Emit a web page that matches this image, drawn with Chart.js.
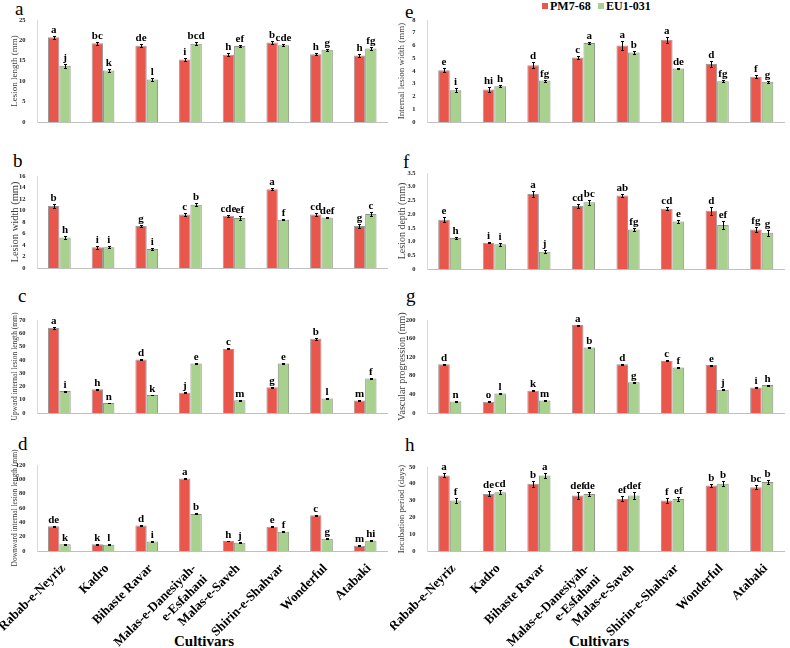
<!DOCTYPE html>
<html>
<head>
<meta charset="utf-8">
<script src="https://cdn.jsdelivr.net/npm/chart.js@4.4.0/dist/chart.umd.min.js"></script>
<style>
  body { margin: 0; width: 790px; height: 648px; background: #fff; position: relative; overflow: hidden;
         font-family: "Liberation Serif", "Times New Roman", serif; }
  canvas { position: absolute; }
  .tag { position: absolute; font-size: 19px; line-height: 1; color: #000; }
  .axisName { position: absolute; font-size: 15px; font-weight: bold; line-height: 1; transform: translateX(-50%); }
  .legend { position: absolute; top: 0; font-size: 12px; font-weight: bold; line-height: 1; white-space: nowrap; }
  .legend i { display: inline-block; width: 6px; height: 6px; margin-right: 2px; vertical-align: 1px; }
</style>
</head>
<body>
<div class="tag" style="left:15px;top:-1px">a</div>
<div class="tag" style="left:13px;top:151px">b</div>
<div class="tag" style="left:18px;top:286px">c</div>
<div class="tag" style="left:18px;top:434px">d</div>
<div class="tag" style="left:405px;top:2px">e</div>
<div class="tag" style="left:403px;top:152px">f</div>
<div class="tag" style="left:406px;top:286px">g</div>
<div class="tag" style="left:405px;top:435px">h</div>
<div class="legend" style="left:542px"><i style="background:#E9564B"></i>PM7-68</div>
<div class="legend" style="left:598px"><i style="background:#A9D18E"></i>EU1-031</div>
<div class="axisName" style="left:204px;top:634px">Cultivars</div>
<div class="axisName" style="left:599px;top:634px">Cultivars</div>

<script>
const cultivars = ["Rabab-e-Neyriz", "Kadro", "Bihaste Ravar", ["Malas-e-Danesiyah-", "e-Esfahani"],
  "Malas-e-Saveh", "Shirin-e-Shahvar", "Wonderful", "Atabaki"];
const seriesNames = ["PM7-68", "EU1-031"];

// a - lesion length (mm)
const lengthPM = [20.8, 19.3, 18.7, 15.3, 16.5, 19.5, 16.6, 16.3];
const lengthEU = [13.8, 12.6, 10.4, 19.2, 18.6, 18.8, 17.7, 18.0];
const lengthPMErr = [0.4, 0.4, 0.3, 0.4, 0.3, 0.3, 0.3, 0.3];
const lengthEUErr = [0.5, 0.3, 0.3, 0.3, 0.2, 0.2, 0.3, 0.3];
const lengthPMLet = ["a", "bc", "de", "i", "h", "b", "h", "h"];
const lengthEULet = ["j", "k", "l", "bcd", "ef", "cde", "g", "fg"];

// b - lesion width (mm)
const widthPM = [10.8, 3.6, 7.3, 9.3, 9.1, 13.7, 9.3, 7.3];
const widthEU = [5.3, 3.6, 3.3, 11.0, 8.7, 8.4, 8.8, 9.4];
const widthPMErr = [0.4, 0.3, 0.2, 0.3, 0.2, 0.2, 0.2, 0.3];
const widthEUErr = [0.2, 0.2, 0.15, 0.3, 0.3, 0.1, 0.15, 0.3];
const widthPMLet = ["b", "i", "g", "c", "cde", "a", "cd", "g"];
const widthEULet = ["h", "i", "i", "b", "ef", "f", "def", "c"];

// c - upward internal lesion length (mm)
const upwardPM = [64.0, 17.8, 40.2, 15.3, 48.2, 19.3, 55.8, 9.4];
const upwardEU = [16.5, 7.5, 13.5, 37.3, 9.6, 37.3, 11.0, 26.0];
const upwardPMErr = [0.5, 0.3, 0.4, 0.4, 0.4, 0.4, 0.5, 0.3];
const upwardEUErr = [0.4, 0.3, 0.3, 0.5, 0.3, 0.5, 0.3, 0.4];
const upwardPMLet = ["a", "h", "d", "j", "c", "g", "b", "m"];
const upwardEULet = ["i", "n", "k", "e", "m", "e", "l", "f"];

// d - downward internal lesion length (mm)
const downwardPM = [34.5, 9.5, 35.5, 101.0, 14.0, 34.0, 49.8, 7.5];
const downwardEU = [9.5, 8.8, 13.3, 51.8, 11.5, 27.0, 17.2, 14.3];
const downwardPMErr = [0.8, 0.5, 0.5, 0.8, 0.5, 0.5, 0.6, 0.5];
const downwardEUErr = [0.5, 0.5, 0.5, 0.6, 0.5, 0.5, 0.5, 0.5];
const downwardPMLet = ["de", "k", "d", "a", "h", "e", "c", "m"];
const downwardEULet = ["k", "l", "i", "b", "j", "f", "g", "hi"];

// e - internal lesion width (mm)
const intWidthPM = [4.05, 2.55, 4.45, 5.05, 6.0, 6.45, 4.55, 3.55];
const intWidthEU = [2.5, 2.8, 3.25, 6.2, 5.45, 4.2, 3.2, 3.15];
const intWidthPMErr = [0.15, 0.2, 0.25, 0.1, 0.35, 0.25, 0.25, 0.1];
const intWidthEUErr = [0.15, 0.08, 0.08, 0.05, 0.1, 0.07, 0.1, 0.1];
const intWidthPMLet = ["e", "hi", "d", "c", "a", "a", "d", "f"];
const intWidthEULet = ["i", "h", "fg", "a", "b", "de", "fg", "g"];

// f - lesion depth (mm)
const depthPM = [1.8, 0.96, 2.73, 2.3, 2.68, 2.2, 2.12, 1.44];
const depthEU = [1.13, 0.9, 0.63, 2.43, 1.44, 1.73, 1.6, 1.32];
const depthPMErr = [0.1, 0.03, 0.1, 0.08, 0.06, 0.06, 0.15, 0.1];
const depthEUErr = [0.05, 0.06, 0.05, 0.1, 0.05, 0.05, 0.15, 0.1];
const depthPMLet = ["e", "i", "a", "cd", "ab", "cd", "d", "fg"];
const depthEULet = ["h", "i", "j", "bc", "fg", "e", "ef", "g"];

// g - vascular progression (mm)
const vascularPM = [105, 24, 48, 189, 105, 112, 103, 55];
const vascularEU = [25, 42, 27, 141, 66, 98, 50, 60];
const vascularPMErr = [1, 1, 1, 1.2, 1, 1, 1, 1];
const vascularEUErr = [1, 1, 1, 1, 1, 1, 1, 1];
const vascularPMLet = ["d", "o", "k", "a", "d", "c", "e", "i"];
const vascularEULet = ["n", "l", "m", "b", "g", "f", "j", "h"];

// h - incubation period (days)
const incubationPM = [45, 34, 40, 33, 31, 30, 39, 38];
const incubationEU = [30, 35, 45, 34, 33, 31, 40, 41];
const incubationPMErr = [1.2, 1.5, 1.8, 2.0, 1.5, 1.3, 0.8, 1.2];
const incubationEUErr = [1.5, 1.2, 1.5, 1.2, 2.0, 1.3, 1.5, 1.1];
const incubationPMLet = ["a", "de", "b", "def", "ef", "f", "b", "bc"];
const incubationEULet = ["f", "cd", "a", "de", "def", "ef", "b", "b"];

const RED = "#E9564B";
const GREEN = "#A9D18E";
const SERIF = "'Liberation Serif', 'Times New Roman', serif";

// error bars + significance letters
const marksPlugin = {
  id: "marks",
  afterDatasetsDraw(chart) {
    const ctx = chart.ctx;
    const yScale = chart.scales.y;
    chart.data.datasets.forEach((ds, i) => {
      const meta = chart.getDatasetMeta(i);
      meta.data.forEach((bar, j) => {
        const v = ds.data[j];
        const e = ds.err[j];
        const top = Math.round(yScale.getPixelForValue(v + e)) + 0.5;
        const bot = Math.round(yScale.getPixelForValue(v - e)) + 0.5;
        const x = Math.round(bar.x) + 0.5;
        ctx.save();
        ctx.strokeStyle = "#000";
        ctx.lineWidth = 1;
        ctx.beginPath();
        ctx.moveTo(x, top);
        ctx.lineTo(x, bot);
        ctx.moveTo(x - 1.5, top);
        ctx.lineTo(x + 1.5, top);
        ctx.moveTo(x - 1.5, bot);
        ctx.lineTo(x + 1.5, bot);
        ctx.stroke();
        ctx.fillStyle = "#000";
        ctx.font = "bold 11px " + SERIF;
        ctx.textAlign = "center";
        ctx.textBaseline = "bottom";
        ctx.fillText(ds.letters[j], bar.x, top - 1);
        ctx.restore();
      });
    });
  },
};

function makePanel(p) {
  const canvas = document.createElement("canvas");
  const colLeft = p.right ? 390 : 0;
  const width = p.right ? 400 : 390;
  const padTop = p.top < 40 ? p.top : 40;
  const canvasTop = p.top - padTop;
  const canvasBottom = p.labels ? 648 : p.bottom + 20;
  canvas.width = width;
  canvas.height = canvasBottom - canvasTop;
  canvas.style.left = colLeft + "px";
  canvas.style.top = canvasTop + "px";
  document.body.appendChild(canvas);

  new Chart(canvas.getContext("2d"), {
    type: "bar",
    data: {
      labels: cultivars,
      datasets: [
        { label: seriesNames[0], data: p.pm, err: p.pmErr, letters: p.pmLet,
          backgroundColor: RED, borderColor: "rgba(120,120,120,0.75)", borderWidth: 1,
          categoryPercentage: 0.52, barPercentage: 1 },
        { label: seriesNames[1], data: p.eu, err: p.euErr, letters: p.euLet,
          backgroundColor: GREEN, borderColor: "rgba(110,120,100,0.8)", borderWidth: 1,
          categoryPercentage: 0.52, barPercentage: 1 },
      ],
    },
    options: {
      responsive: false,
      animation: false,
      layout: { padding: { top: padTop, right: width - (p.plotRight - colLeft), left: 0, bottom: 0 } },
      plugins: { legend: { display: false }, tooltip: { enabled: false } },
      scales: {
        x: {
          grid: { display: false },
          border: { display: true, color: "#bfbfbf" },
          ticks: {
            display: !!p.labels,
            autoSkip: false,
            minRotation: 45,
            maxRotation: 45,
            padding: 2,
            labelOffset: 4,
            color: "#000",
            font: { family: SERIF, size: 13, weight: "bold" },
          },
          afterFit(scale) {
            scale.height = canvasBottom - p.bottom;
            scale.paddingLeft = 0;
            scale.paddingRight = 0;
          },
        },
        y: {
          min: 0,
          max: p.max,
          ticks: {
            stepSize: p.step,
            padding: 4,
            color: "#222",
            font: { family: SERIF, size: 6.5, weight: "bold" },
          },
          grid: { display: false },
          border: { display: true, color: "#d9d9d9" },
          title: {
            display: true,
            text: p.title,
            color: "#404040",
            font: { family: SERIF, size: p.titleSize },
            padding: { top: p.titleX - p.titleSize * 0.6, bottom: 0 },
          },
          afterFit(scale) {
            scale.width = p.plotLeft - colLeft;
          },
        },
      },
    },
    plugins: [marksPlugin],
  });
}

const panels = [
  { title: "Lesion length (mm)", pm: lengthPM, eu: lengthEU, pmErr: lengthPMErr, euErr: lengthEUErr,
    pmLet: lengthPMLet, euLet: lengthEULet, max: 25, step: 5, titleSize: 9, titleX: 15,
    plotLeft: 37.5, plotRight: 387, top: 20, bottom: 122 },
  { title: "Lesion width (mm)", pm: widthPM, eu: widthEU, pmErr: widthPMErr, euErr: widthEUErr,
    pmLet: widthPMLet, euLet: widthEULet, max: 16, step: 2, titleSize: 10.5, titleX: 15,
    plotLeft: 37.5, plotRight: 387, top: 176, bottom: 268 },
  { title: "Upward internal lesion length (mm)", pm: upwardPM, eu: upwardEU, pmErr: upwardPMErr, euErr: upwardEUErr,
    pmLet: upwardPMLet, euLet: upwardEULet, max: 70, step: 10, titleSize: 7.5, titleX: 15,
    plotLeft: 37.5, plotRight: 387, top: 320, bottom: 413 },
  { title: "Downward internal lesion length (mm)", pm: downwardPM, eu: downwardEU, pmErr: downwardPMErr, euErr: downwardEUErr,
    pmLet: downwardPMLet, euLet: downwardEULet, max: 120, step: 20, titleSize: 7.5, titleX: 15,
    plotLeft: 37.5, plotRight: 387, top: 465, bottom: 551, labels: true },
  { right: true, title: "Internal lesion width (mm)", pm: intWidthPM, eu: intWidthEU, pmErr: intWidthPMErr, euErr: intWidthEUErr,
    pmLet: intWidthPMLet, euLet: intWidthEULet, max: 8, step: 1, titleSize: 9, titleX: 12,
    plotLeft: 427.5, plotRight: 784, top: 20, bottom: 122 },
  { right: true, title: "Lesion depth (mm)", pm: depthPM, eu: depthEU, pmErr: depthPMErr, euErr: depthEUErr,
    pmLet: depthPMLet, euLet: depthEULet, max: 3.5, step: 0.5, titleSize: 10, titleX: 12,
    plotLeft: 427.5, plotRight: 784, top: 173, bottom: 269 },
  { right: true, title: "Vascular progression (mm)", pm: vascularPM, eu: vascularEU, pmErr: vascularPMErr, euErr: vascularEUErr,
    pmLet: vascularPMLet, euLet: vascularEULet, max: 200, step: 20, titleSize: 10, titleX: 12,
    plotLeft: 427.5, plotRight: 784, top: 320, bottom: 413 },
  { right: true, title: "Incubation period (days)", pm: incubationPM, eu: incubationEU, pmErr: incubationPMErr, euErr: incubationEUErr,
    pmLet: incubationPMLet, euLet: incubationEULet, max: 50, step: 5, titleSize: 9, titleX: 12,
    plotLeft: 427.5, plotRight: 784, top: 467, bottom: 551, labels: true },
];

panels.forEach(makePanel);
</script>
</body>
</html>
